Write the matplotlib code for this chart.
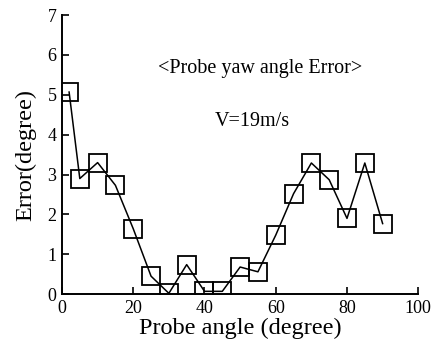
import matplotlib.pyplot as plt

plt.rcParams['font.family'] = ['Liberation Serif', 'DejaVu Serif']

# probe angle (deg) and yaw angle error (deg)
angle = [2, 5, 10, 15, 20, 25, 30, 35, 40, 45, 50, 55, 60, 65, 70, 75, 80, 85, 90]
error = [5.07, 2.9, 3.3, 2.73, 1.64, 0.45, 0.02, 0.74, 0.07, 0.07,
         0.68, 0.56, 1.48, 2.52, 3.29, 2.87, 1.9, 3.29, 1.77]

x_ticks = [0, 20, 40, 60, 80, 100]
y_ticks = [0, 1, 2, 3, 4, 5, 6, 7]

fig = plt.figure(figsize=(4.35, 3.44), dpi=100)
ax = fig.add_axes([0.1425, 0.145, 0.819, 0.811])

ax.plot(angle, error, '-', color='black', lw=1.1)
ax.plot(angle, error, 's', ms=12.5, mfc='none', mec='black', mew=1.3)

ax.set_xlim(0, 100)
ax.set_ylim(0, 7)
ax.set_xticks(x_ticks)
ax.set_yticks(y_ticks)

for side in ['top', 'right']:
    ax.spines[side].set_visible(False)
for side in ['left', 'bottom']:
    ax.spines[side].set_linewidth(1.4)

ax.tick_params(direction='in', length=5, width=1.2, labelsize=13, pad=4)

ax.set_xlabel('Probe angle (degree)', fontsize=17.5, labelpad=1)
ax.set_ylabel('Error(degree)', fontsize=17.5, labelpad=8)

ax.text(0.555, 0.81, '<Probe yaw angle Error>', transform=ax.transAxes,
        ha='center', va='center', fontsize=14.5)
ax.text(0.535, 0.62, 'V=19m/s', transform=ax.transAxes,
        ha='center', va='center', fontsize=14.5)

fig.savefig('out.png', dpi=100)
